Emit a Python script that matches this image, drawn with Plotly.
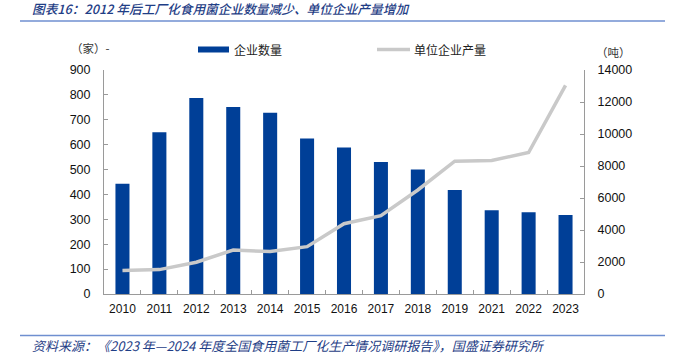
import plotly.graph_objects as go

years = ["2010", "2011", "2012", "2013", "2014", "2015", "2016", "2017", "2018", "2019", "2021", "2022", "2023"]
firms = [443, 650, 787, 751, 728, 625, 589, 530, 500, 418, 336, 328, 317]
output_per_firm = [1470, 1525, 1985, 2750, 2650, 2960, 4390, 4900, 6500, 8300, 8350, 8840, 13040]

left_ticks = [0, 100, 200, 300, 400, 500, 600, 700, 800, 900]
right_ticks = [0, 2000, 4000, 6000, 8000, 10000, 12000, 14000]

BLUE = "#003f97"
GRAY = "#c9c9c9"
AX = "#9a9a9a"
CJK = "Noto Sans CJK SC"
NUM = "Liberation Sans, Arial"
TITLE_BLUE = "#1f3e86"

fig = go.Figure()
fig.add_trace(go.Bar(x=years, y=firms, name="企业数量", marker=dict(color=BLUE, line=dict(width=0)),
                     showlegend=False))
fig.add_trace(go.Scatter(x=years, y=output_per_firm, name="单位企业产量", mode="lines",
                         line=dict(color=GRAY, width=3.5), yaxis="y2", showlegend=False))

fig.update_layout(
    width=673, height=360,
    margin=dict(l=104, r=89, t=70, b=66),
    plot_bgcolor="white", paper_bgcolor="white",
    bargap=0.62,
    showlegend=False,
    xaxis=dict(type="category", showline=True, linecolor=AX, linewidth=1, automargin=False,
               ticks="inside", ticklen=4, tickcolor=AX, tickson="boundaries", ticklabelstandoff=4,
               tickfont=dict(family=NUM, size=12, color="#111"), showgrid=False),
    yaxis=dict(range=[0, 900], tickvals=left_ticks, showline=True, linecolor=AX, linewidth=1,
               automargin=False, ticks="inside", ticklen=4, tickcolor=AX, showgrid=False,
               zeroline=False, ticklabelstandoff=10,
               tickfont=dict(family=NUM, size=12.5, color="#111")),
    yaxis2=dict(range=[0, 14000], tickvals=right_ticks, tickformat="d", overlaying="y", side="right",
                showline=True, linecolor=AX, linewidth=1, ticks="inside", ticklen=4, tickcolor=AX,
                automargin=False, showgrid=False, zeroline=False, ticklabelstandoff=10,
                tickfont=dict(family=NUM, size=12.5, color="#111")),
)

def px_x(px):
    return (px - 104) / 480.0

def px_y(py):
    return (294 - py) / 224.0

fig.add_annotation(text="图表16：2012 年后工厂化食用菌企业数量减少、单位企业产量增加",
                   xref="paper", yref="paper", x=px_x(30), y=px_y(9), xanchor="left", yanchor="middle",
                   showarrow=False, font=dict(family=CJK, size=12.7, color=TITLE_BLUE, style="italic",
                                              weight=500))
fig.add_annotation(text="资料来源：《2023 年—2024 年度全国食用菌工厂化生产情况调研报告》，国盛证券研究所",
                   xref="paper", yref="paper", x=px_x(30), y=px_y(345), xanchor="left", yanchor="middle",
                   showarrow=False, font=dict(family=CJK, size=13, color=TITLE_BLUE, style="italic"))
fig.add_annotation(text="（家）-", xref="paper", yref="paper", x=px_x(90), y=px_y(48), xanchor="center",
                   yanchor="middle", showarrow=False, font=dict(family=CJK, size=11.5, color="#333"))
fig.add_annotation(text="（吨）", xref="paper", yref="paper", x=px_x(613), y=px_y(52), xanchor="center",
                   yanchor="middle", showarrow=False, font=dict(family=CJK, size=11.5, color="#333"))

# legend (drawn manually to match the wide swatches)
fig.add_shape(type="rect", xref="paper", yref="paper", x0=px_x(198), x1=px_x(229),
              y0=px_y(52.5), y1=px_y(46.5), fillcolor=BLUE, line=dict(width=0))
fig.add_annotation(text="企业数量", xref="paper", yref="paper", x=px_x(232), y=px_y(49.5),
                   xanchor="left", yanchor="middle", showarrow=False,
                   font=dict(family=CJK, size=12, color="#222"))
fig.add_shape(type="line", xref="paper", yref="paper", x0=px_x(377), x1=px_x(410),
              y0=px_y(49.5), y1=px_y(49.5), line=dict(color=GRAY, width=3.5))
fig.add_annotation(text="单位企业产量", xref="paper", yref="paper", x=px_x(412), y=px_y(49.5),
                   xanchor="left", yanchor="middle", showarrow=False,
                   font=dict(family=CJK, size=12, color="#222"))

fig.add_shape(type="line", xref="paper", yref="paper", x0=px_x(20), x1=px_x(665),
              y0=px_y(21), y1=px_y(21), line=dict(color="#6f8fd0", width=1.5))
fig.add_shape(type="line", xref="paper", yref="paper", x0=px_x(20), x1=px_x(665),
              y0=px_y(335.5), y1=px_y(335.5), line=dict(color="#6f8fd0", width=1.5))

fig.write_html("out.html", config={"displayModeBar": False},
               post_script="document.body.style.margin='0';document.body.style.overflow='hidden';")
